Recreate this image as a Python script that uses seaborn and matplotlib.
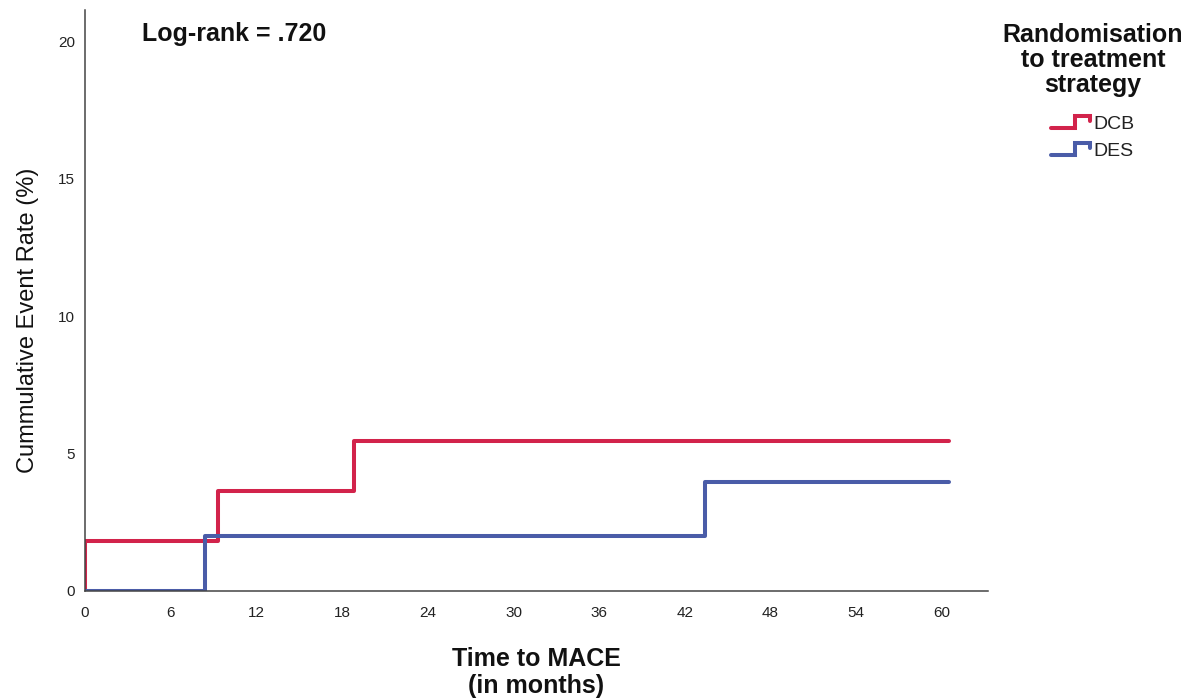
import matplotlib
matplotlib.use("Agg")
import matplotlib.pyplot as plt
import seaborn as sns
import pandas as pd
from matplotlib.legend_handler import HandlerBase
from matplotlib.lines import Line2D

# ---- data ----
groups = ["DCB", "DES"]
dcb_time = [0.0, 0.0, 9.3, 18.8, 60.5]
dcb_rate = [0.0, 1.82, 3.64, 5.45, 5.45]
des_time = [0.0, 8.4, 43.4, 60.5]
des_rate = [0.0, 2.0, 3.96, 3.96]
x_ticks = [0, 6, 12, 18, 24, 30, 36, 42, 48, 54, 60]
y_ticks = [0, 5, 10, 15, 20]
colors = {"DCB": "#D2234B", "DES": "#4A5CA8"}

df = pd.concat([
    pd.DataFrame({"time": dcb_time, "rate": dcb_rate, "group": "DCB"}),
    pd.DataFrame({"time": des_time, "rate": des_rate, "group": "DES"}),
], ignore_index=True)

sns.set_theme(style="white")
plt.rcParams["font.family"] = ["Liberation Sans", "DejaVu Sans"]

W, H = 1196, 700
fig = plt.figure(figsize=(W/100, H/100), dpi=100)
ax = fig.add_axes([85/W, 1-591/H, (988-85)/W, (591-10)/H])

sns.lineplot(data=df, x="time", y="rate", hue="group", hue_order=groups,
             palette=colors, estimator=None, sort=True, drawstyle="steps-post",
             linewidth=2.9, ax=ax, legend=False)

ax.set_xlim(0, (988-85)/((942-85)/60))
ax.set_ylim(0, (591-10)/((591-41)/20))
ax.set_xticks(x_ticks)
ax.set_yticks(y_ticks)
ax.tick_params(axis="both", length=0, labelsize=11, colors="#222222")
ax.tick_params(axis="x", pad=11)
ax.tick_params(axis="y", pad=7)
for s in ["top", "right"]:
    ax.spines[s].set_visible(False)
for s in ["left", "bottom"]:
    ax.spines[s].set_color("#444444")
    ax.spines[s].set_linewidth(1.1)

ax.set_xlabel("Time to MACE\n(in months)", fontsize=18, fontweight="bold",
              color="#111111", linespacing=1.18)
ax.xaxis.set_label_coords(0.5, (591-647)/581)
ax.set_ylabel("Cummulative Event Rate (%)", fontsize=17, color="#111111")
ax.yaxis.set_label_coords((39-85)/903, (591-320)/581)

ax.text((142-85)/903, (591-34)/581, "Log-rank = .720", transform=ax.transAxes,
        fontsize=18, fontweight="bold", va="center", ha="left", color="#111111")

# legend title as separate text
fig.text(1093/W, 1-23/H, "Randomisation\nto treatment\nstrategy",
         ha="center", va="top", multialignment="center", fontsize=18,
         fontweight="bold", color="#111111", linespacing=1.05)


class StepHandler(HandlerBase):
    def create_artists(self, legend, orig_handle, xdescent, ydescent,
                       width, height, fontsize, trans):
        x0 = -xdescent
        y0 = -ydescent
        xs = [x0, x0 + 0.62*width, x0 + 0.62*width, x0 + width, x0 + width]
        ys = [y0 + 0.05*height, y0 + 0.05*height, y0 + 0.95*height,
              y0 + 0.95*height, y0 + 0.55*height]
        ln = Line2D(xs, ys, color=orig_handle.get_color(),
                    linewidth=orig_handle.get_linewidth(), transform=trans,
                    solid_joinstyle="miter")
        return [ln]


handles = [Line2D([], [], color=colors[g], linewidth=2.9) for g in groups]
leg = fig.legend(handles, groups, loc="upper left",
                 bbox_to_anchor=(1051/W, 1-115/H),
                 fontsize=14, frameon=False, borderpad=0, borderaxespad=0,
                 handler_map={Line2D: StepHandler()},
                 handlelength=2.0, handletextpad=0.2, labelspacing=0.48)
for t in leg.get_texts():
    t.set_color("#222222")

fig.savefig("out.png", dpi=100, facecolor="white")
